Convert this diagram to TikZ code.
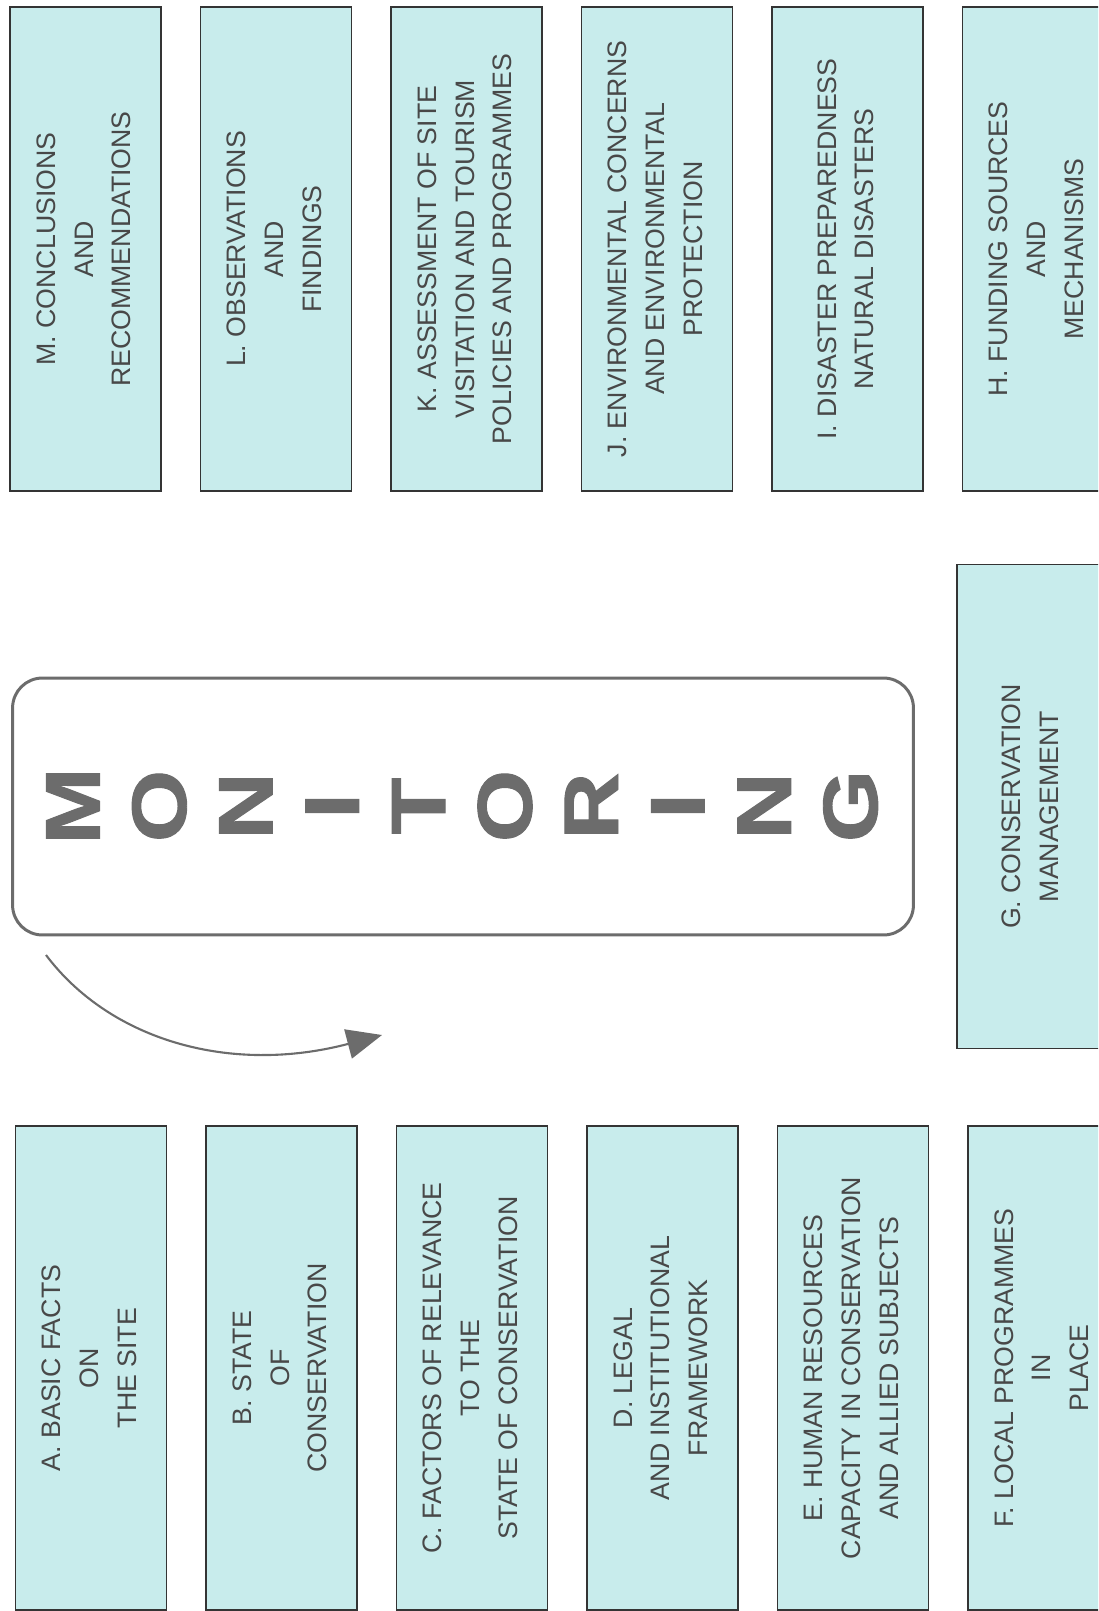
\documentclass[tikz,border=0pt]{standalone}
\usepackage{fontspec}
\setmainfont{Liberation Sans}
\newfontfamily\heavyfont{Liberation Sans Bold}[FakeBold=1.2]
\usepackage{graphicx}
\usepackage{xcolor}
\usepackage{tikz}
\usetikzlibrary{arrows.meta, positioning}

\definecolor{boxfill}{RGB}{200,236,236}
\definecolor{boxline}{RGB}{52,52,52}
\definecolor{boxtext}{RGB}{72,72,72}
\definecolor{monogray}{RGB}{108,108,108}

\newcommand{\vlines}[1]{\rotatebox{90}{\begin{tabular}{@{}c@{}}#1\end{tabular}}}

\begin{document}
\begin{tikzpicture}[
    x=0.02cm, y=-0.02cm,
    topicbox/.style={rectangle, draw=boxline, fill=boxfill, line width=1pt, minimum width=3.02cm, minimum height=9.68cm, inner sep=0pt, text=boxtext, font=\fontsize{15.2}{21.5}\selectfont},
    monobox/.style={rectangle, draw=monogray, rounded corners=17pt, line width=1.7pt, minimum width=18.02cm, minimum height=5.14cm},
    monoletter/.style={text=monogray, font=\fontsize{44}{44}\heavyfont, inner sep=0pt, rotate=90},
    curvearrow/.style={-{Triangle[length=20pt, width=17pt]}, line width=1.2pt, color=monogray},
]
\useasboundingbox (0,0) rectangle (1098,1611);
\clip (0,0) rectangle (1098,1611);

% ── Top row ──
\node[topicbox] (secM) at (85.5,249) {\vlines{M. CONCLUSIONS\\AND\\RECOMMENDATIONS}};
\node[topicbox, right=0.755cm of secM] (secL) {\vlines{L. OBSERVATIONS\\AND\\FINDINGS}};
\node[topicbox, right=0.755cm of secL] (secK) {\vlines{K. ASSESSMENT OF SITE\\VISITATION AND TOURISM\\POLICIES AND PROGRAMMES}};
\node[topicbox, right=0.755cm of secK] (secJ) {\vlines{J. ENVIRONMENTAL CONCERNS\\AND ENVIRONMENTAL\\PROTECTION}};
\node[topicbox, right=0.755cm of secJ] (secI) {\vlines{I. DISASTER PREPAREDNESS\\NATURAL DISASTERS}};
\node[topicbox, right=0.755cm of secI] (secH) {\vlines{H. FUNDING SOURCES\\AND\\MECHANISMS}};

% ── Bottom row ──
\node[topicbox] (secA) at (91,1368) {\vlines{A. BASIC FACTS\\ON\\THE SITE}};
\node[topicbox, right=0.755cm of secA] (secB) {\vlines{B. STATE\\OF\\CONSERVATION}};
\node[topicbox, right=0.755cm of secB] (secC) {\vlines{C. FACTORS OF RELEVANCE\\TO THE\\STATE OF CONSERVATION}};
\node[topicbox, right=0.755cm of secC] (secD) {\vlines{D. LEGAL\\AND INSTITUTIONAL\\FRAMEWORK}};
\node[topicbox, right=0.755cm of secD] (secE) {\vlines{E. HUMAN RESOURCES\\CAPACITY IN CONSERVATION\\AND ALLIED SUBJECTS}};
\node[topicbox, right=0.755cm of secE] (secF) {\vlines{F. LOCAL PROGRAMMES\\IN\\PLACE}};

% ── Monitoring ──
\node[monobox] (mon) at (463,806.5) {};
\foreach \ch [count=\i from 0] in {M,O,N,I,T,O,R,I,N,G}
  \node[monoletter] (ltr\i) at ({73+86.4*\i},806) {\scalebox{1.2}[1]{\ch}};

\node[topicbox, right=0.82cm of mon] (secG) {\vlines{G. CONSERVATION\\MANAGEMENT}};

% ── Arrow ──
\coordinate (arrS) at (46,955);
\coordinate (arrE) at (382,1035);
\draw[curvearrow] (arrS) .. controls (110,1040) and (230,1075) .. (arrE);

\end{tikzpicture}
\end{document}
